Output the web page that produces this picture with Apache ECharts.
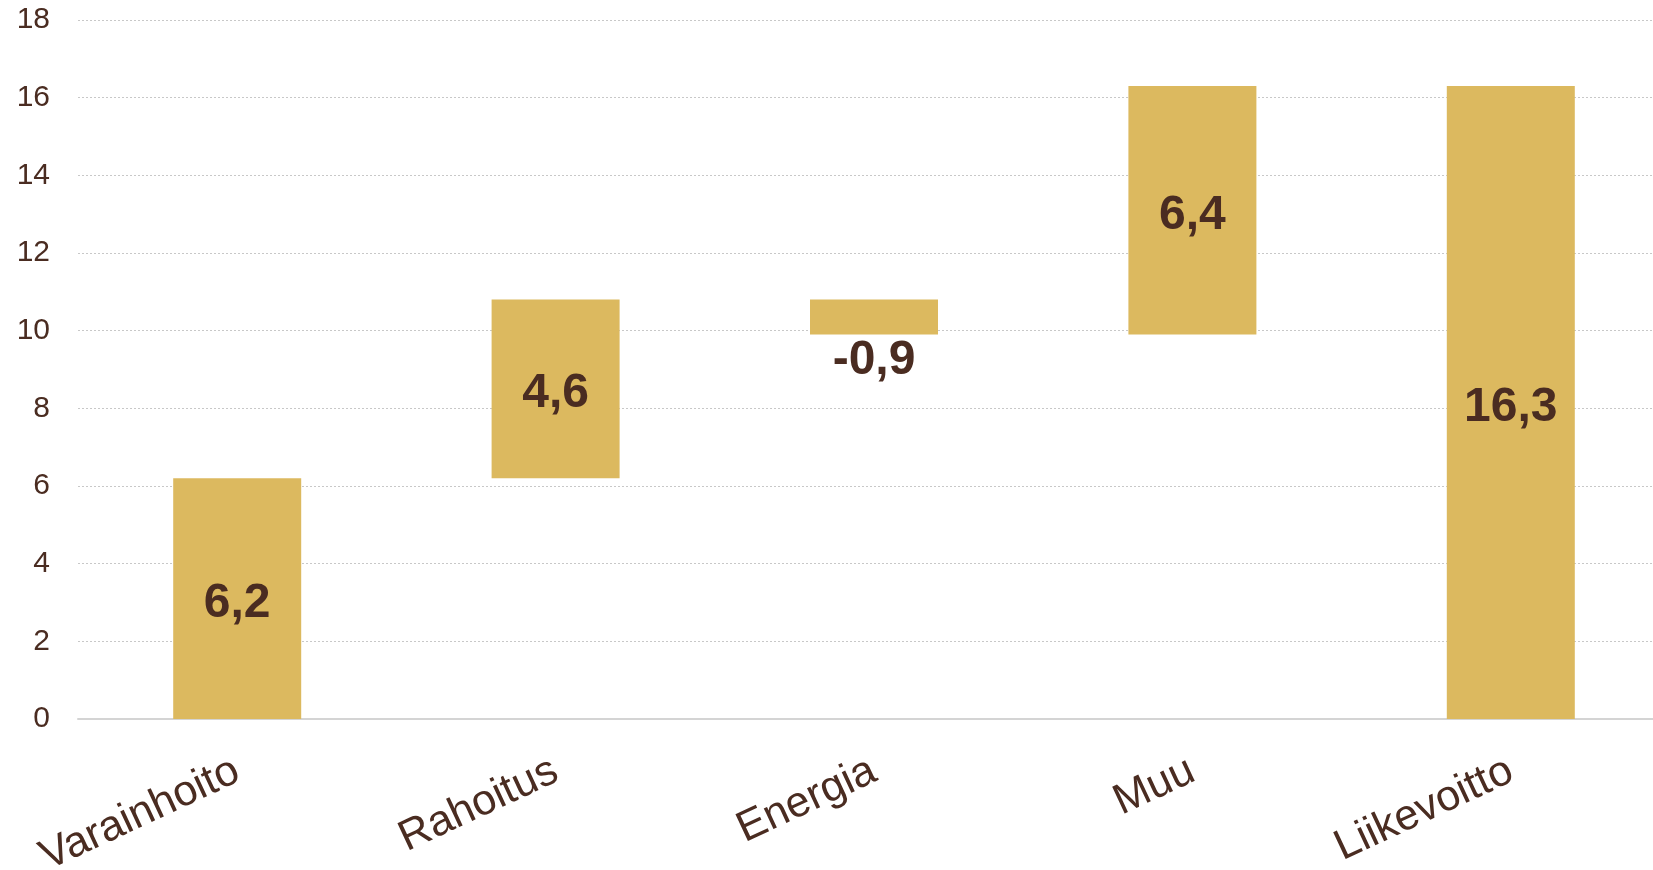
<!DOCTYPE html>
<html>
<head>
<meta charset="utf-8">
<script src="https://cdn.jsdelivr.net/npm/echarts@6/dist/echarts.min.js"></script>
<style>html,body{margin:0;padding:0;background:#fff}#c{width:1653px;height:870px}</style>
</head>
<body>
<div id="c"></div>
<script>
const categories = ['Varainhoito', 'Rahoitus', 'Energia', 'Muu', 'Liikevoitto'];
const values = [6.2, 4.6, -0.9, 6.4, 16.3];
const isTotal = [false, false, false, false, true];
const yTicks = { min: 0, max: 18, interval: 2 };

const base = [], visible = [];
let run = 0;
values.forEach((v, i) => {
  if (isTotal[i]) { base.push(0); visible.push(v); run = v; return; }
  const start = run, end = run + v;
  base.push(Math.min(start, end));
  visible.push(Math.abs(v));
  run = end;
});

const textColor = '#4a2c21';
const chart = echarts.init(document.getElementById('c'), null, { renderer: 'canvas' });
chart.setOption({
  animation: false,
  grid: { left: 78, right: -17, top: 20, bottom: 151, containLabel: false, outerBoundsMode: 'none' },
  xAxis: {
    type: 'category',
    data: categories,
    axisLine: { show: true, lineStyle: { color: '#d4d4d4', width: 2 } },
    axisTick: { show: false },
    axisLabel: { rotate: 25, margin: 50, fontSize: 43, fontFamily: 'Liberation Sans, Arial, sans-serif', color: textColor, interval: 0 }
  },
  yAxis: {
    type: 'value',
    min: yTicks.min, max: yTicks.max, interval: yTicks.interval,
    axisLine: { show: false },
    axisTick: { show: false },
    axisLabel: { fontSize: 30, margin: 28, fontFamily: 'Liberation Sans, Arial, sans-serif', color: textColor },
    splitLine: { show: true, lineStyle: { type: [2, 2], color: '#c8c8c8', width: 1 } }
  },
  series: [
    {
      type: 'bar', stack: 'w', data: base, barWidth: 128,
      itemStyle: { color: 'transparent' }, silent: true
    },
    {
      type: 'bar', stack: 'w', barWidth: 128,
      data: visible.map((v, i) => ({
        value: v,
        label: values[i] < 0 ? { position: 'bottom', distance: 2, offset: [0, 0] } : { position: 'inside', offset: [0, 5] }
      })),
      itemStyle: { color: '#dcb95f' },
      label: {
        show: true, fontSize: 48, fontWeight: 'bold', color: textColor,
        fontFamily: 'Liberation Sans, Arial, sans-serif',
        formatter: p => String(values[p.dataIndex]).replace('.', ',')
      }
    }
  ]
});
</script>
</body>
</html>
